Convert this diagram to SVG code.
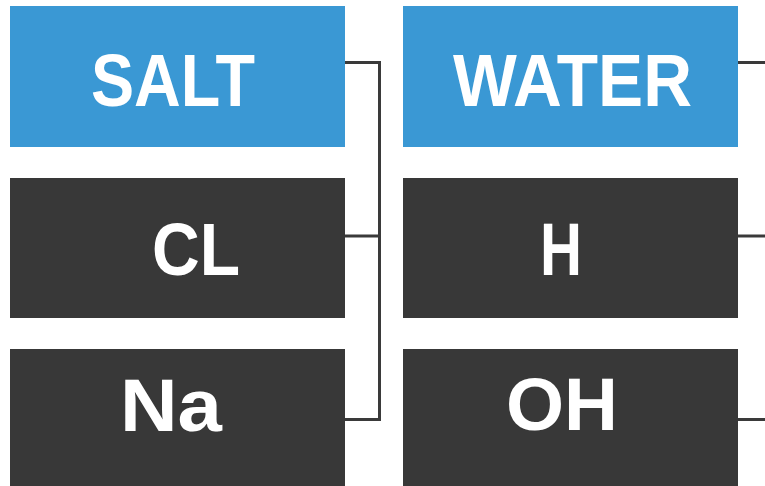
<svg xmlns="http://www.w3.org/2000/svg" width="765" height="486" viewBox="0 0 765 486">
<style>
.blue{fill:#3a98d4}
.dark{fill:#383838}
.t{fill:#ffffff;font-family:"Liberation Sans",Arial,sans-serif;font-weight:bold;font-size:75px}
.c{fill:none;stroke:#3a3a3a;stroke-width:3}
</style>
<rect width="765" height="486" fill="#ffffff"/>
<g id="salt"><rect class="blue" x="10" y="6" width="335" height="141"/><text class="t" x="91" y="106" textLength="164" lengthAdjust="spacingAndGlyphs">SALT</text></g>
<g id="cl"><rect class="dark" x="10" y="178" width="335" height="140"/><text class="t" x="152" y="275" textLength="88" lengthAdjust="spacingAndGlyphs">CL</text></g>
<g id="na"><rect class="dark" x="10" y="349" width="335" height="137"/><text class="t" x="120" y="431" textLength="102" lengthAdjust="spacingAndGlyphs">Na</text></g>
<g id="water"><rect class="blue" x="403" y="6" width="335" height="141"/><text class="t" x="453" y="106" textLength="239" lengthAdjust="spacingAndGlyphs">WATER</text></g>
<g id="h"><rect class="dark" x="403" y="178" width="335" height="140"/><text class="t" x="540" y="275" textLength="42" lengthAdjust="spacingAndGlyphs">H</text></g>
<g id="oh"><rect class="dark" x="403" y="349" width="335" height="137"/><text class="t" x="506" y="430" textLength="112" lengthAdjust="spacingAndGlyphs">OH</text></g>
<g id="connectors">
<path class="c" d="M345 62.5H379.5V419.5H345"/>
<path class="c" d="M345 236H379.5"/>
<path class="c" d="M738 62.5H765"/>
<path class="c" d="M738 236H765"/>
<path class="c" d="M738 419.5H765"/>
</g>
</svg>
